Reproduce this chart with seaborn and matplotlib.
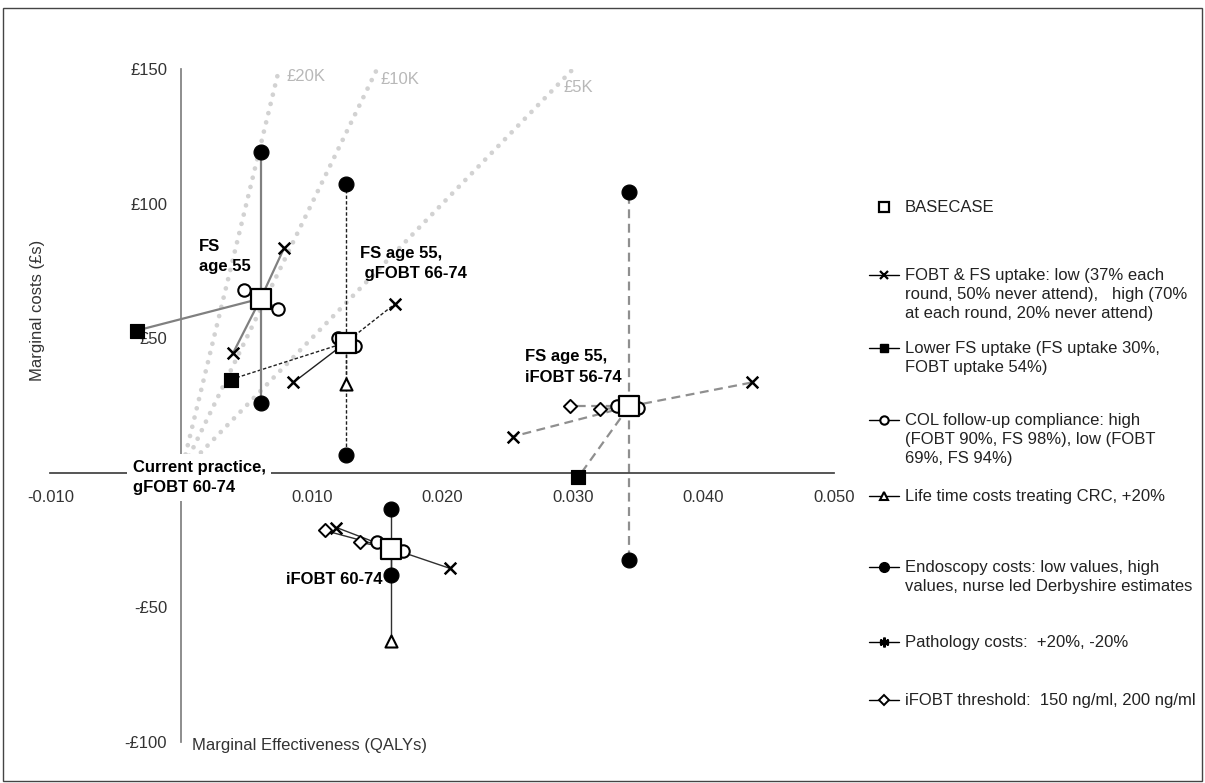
import matplotlib
matplotlib.use("Agg")
import matplotlib.pyplot as plt
from matplotlib.lines import Line2D
from matplotlib.patches import Rectangle
import pandas as pd
import seaborn as sns

# clusters: one base case per screening strategy
strategies = ["FS age 55", "FS age 55, gFOBT 66-74", "FS age 55, iFOBT 56-74", "iFOBT 60-74"]
base_qaly = [0.0061, 0.0126, 0.0343, 0.0161]
base_cost = [64.8, 48.4, 24.7, -28.1]

# sensitivity analyses (strategy index, QALY, cost)
uptake_strategy = [0, 0, 1, 1, 2, 2, 3, 3]
uptake_qaly = [0.0079, 0.0040, 0.0164, 0.0086, 0.0437, 0.0254, 0.0206, 0.0119]
uptake_cost = [83.7, 44.7, 62.9, 33.6, 33.6, 13.5, -35.5, -20.3]

lower_fs_strategy = [0, 1, 2]
lower_fs_qaly = [-0.0034, 0.0038, 0.0304]
lower_fs_cost = [52.9, 34.7, -1.7]

col_strategy = [0, 0, 1, 1, 2, 2, 3, 3]
col_qaly = [0.0048, 0.0074, 0.0120, 0.0133, 0.0334, 0.0350, 0.0150, 0.0170]
col_cost = [68.1, 61.0, 50.0, 47.1, 25.0, 24.3, -25.8, -29.2]

crc_strategy = [1, 3]
crc_qaly = [0.0126, 0.0161]
crc_cost = [33.2, -62.6]

endo_strategy = [0, 0, 1, 1, 2, 2, 3, 3]
endo_qaly = [0.0061, 0.0061, 0.0126, 0.0126, 0.0343, 0.0343, 0.0161, 0.0161]
endo_cost = [119.4, 25.8, 107.5, 6.5, 104.5, -32.2, -13.6, -38.1]

threshold_strategy = [2, 2, 3, 3]
threshold_qaly = [0.0298, 0.0321, 0.0110, 0.0137]
threshold_cost = [24.7, 23.6, -21.4, -25.8]

icer_thresholds = [20000, 10000, 5000]
icer_labels = ["£20K", "£10K", "£5K"]
icer_top_cost = 150

qaly_ticks = [-0.01, 0.0, 0.01, 0.02, 0.03, 0.04, 0.05]
qaly_tick_labels = ["-0.010", "", "0.010", "0.020", "0.030", "0.040", "0.050"]
cost_ticks = [-100, -50, 0, 50, 100, 150]
cost_tick_labels = ["-£100", "-£50", "", "£50", "£100", "£150"]

legend_labels = [
    "BASECASE",
    "FOBT & FS uptake: low (37% each\nround, 50% never attend),   high (70%\nat each round, 20% never attend)",
    "Lower FS uptake (FS uptake 30%,\nFOBT uptake 54%)",
    "COL follow-up compliance: high\n(FOBT 90%, FS 98%), low (FOBT\n69%, FS 94%)",
    "Life time costs treating CRC, +20%",
    "Endoscopy costs: low values, high\nvalues, nurse led Derbyshire estimates",
    "Pathology costs:  +20%, -20%",
    "iFOBT threshold:  150 ng/ml, 200 ng/ml",
]

analyses = {
    "uptake": (uptake_strategy, uptake_qaly, uptake_cost),
    "lower_fs": (lower_fs_strategy, lower_fs_qaly, lower_fs_cost),
    "col": (col_strategy, col_qaly, col_cost),
    "crc": (crc_strategy, crc_qaly, crc_cost),
    "endo": (endo_strategy, endo_qaly, endo_cost),
    "threshold": (threshold_strategy, threshold_qaly, threshold_cost),
}
rows = []
for name, (strat, q, c) in analyses.items():
    for s, qi, ci in zip(strat, q, c):
        rows.append({"analysis": name, "strategy": s, "qaly": qi, "cost": ci})
df = pd.DataFrame(rows)
base_df = pd.DataFrame({"strategy": strategies, "qaly": base_qaly, "cost": base_cost})

marker_style = {
    "uptake": dict(marker="x", s=70, color="black", linewidth=1.8),
    "lower_fs": dict(marker="s", s=105, color="black", edgecolor="black"),
    "col": dict(marker="o", s=80, color="white", edgecolor="black", linewidth=1.5),
    "crc": dict(marker="^", s=75, color="white", edgecolor="black", linewidth=1.5),
    "endo": dict(marker="o", s=115, color="black", edgecolor="black"),
    "threshold": dict(marker="D", s=45, color="white", edgecolor="black", linewidth=1.4),
}
cluster_lines = [
    dict(color="#808080", lw=1.6, ls="-"),
    dict(color="#202020", lw=1.0, ls=(0, (2.5, 1.5))),
    dict(color="#8f8f8f", lw=1.6, ls=(0, (4, 2.5))),
    dict(color="#303030", lw=1.0, ls="-"),
]

sns.set_theme(style="white")
plt.rcParams["font.family"] = ["Liberation Sans", "DejaVu Sans"]

fig = plt.figure(figsize=(12.05, 7.83), dpi=100)
ax = fig.add_axes([0.0419, 0.0524, 0.6502, 0.8591])

# ICER threshold lines
for lam, lab, off in zip(icer_thresholds, icer_labels, [(7, -7), (4, -10), (-9, -18)]):
    x_end = icer_top_cost / lam
    ax.plot([0, x_end], [0, icer_top_cost], color="#d2d2d2", lw=3.4,
            ls=(0, (0.01, 2.0)), dash_capstyle="round", zorder=1)
    ax.annotate(lab, (x_end, icer_top_cost), xytext=off, textcoords="offset pixels",
                ha="left", va="center", fontsize=12, color="#b8b8b8")

# connecting lines from each base case to its sensitivity results
for _, r in df.iterrows():
    st = dict(cluster_lines[r["strategy"]])
    if r["strategy"] == 1 and r["analysis"] == "uptake" and r["qaly"] < base_qaly[1]:
        st["ls"] = "-"
    ax.plot([base_qaly[r["strategy"]], r["qaly"]], [base_cost[r["strategy"]], r["cost"]],
            zorder=2, **st)

for name, kw in marker_style.items():
    sns.scatterplot(data=df[df["analysis"] == name], x="qaly", y="cost", ax=ax,
                    zorder=4, legend=False, **kw)
sns.scatterplot(data=base_df, x="qaly", y="cost", ax=ax, marker="s", s=190,
                color="white", edgecolor="black", linewidth=1.6, zorder=5, legend=False)

ax.set_xlim(-0.01, 0.05)
ax.set_ylim(-100, 150)
ax.set_xlabel("")
ax.set_ylabel("")
ax.spines["left"].set_position(("data", 0))
ax.spines["bottom"].set_position(("data", 0))
ax.spines["left"].set_color("#808080")
ax.spines["bottom"].set_color("#404040")
for s in ["top", "right"]:
    ax.spines[s].set_visible(False)
ax.set_xticks(qaly_ticks)
ax.set_xticklabels(qaly_tick_labels)
ax.set_yticks(cost_ticks)
ax.set_yticklabels(cost_tick_labels)
ax.tick_params(axis="x", direction="out", length=3, width=1, color="#404040",
               pad=9, labelsize=12, labelcolor="#333333")
ax.tick_params(axis="y", direction="out", length=3, width=1, color="#808080",
               pad=7, labelsize=12, labelcolor="#333333")
ax.grid(False)

# cluster labels
bold = dict(fontsize=12, fontweight="bold", color="black", linespacing=1.45, zorder=6)
ax.text(0.00135, 80.5, "FS\nage 55", ha="left", va="center", **bold)
ax.text(0.0137, 77.9, "FS age 55,\n gFOBT 66-74", ha="left", va="center", **bold)
ax.text(0.0263, 39.3, "FS age 55,\niFOBT 56-74", ha="left", va="center", **bold)
ax.text(0.0080, -39.6, "iFOBT 60-74", ha="left", va="center", **bold)
ax.text(-0.0037, -1.7, "Current practice,\ngFOBT 60-74", ha="left", va="center",
        bbox=dict(facecolor="white", edgecolor="none", pad=4), **bold)

fig.text(0.0315, 0.604, "Marginal costs (£s)", rotation=90, ha="center", va="center",
         fontsize=12, color="#333333")
fig.text(192 / 1205, 0.0485, "Marginal Effectiveness (QALYs)", ha="left", va="center",
         fontsize=12, color="#333333")

# legend drawn by hand to keep the original uneven spacing
H = 783.0
W = 1205.0
legend_y = [207, 275, 348, 420, 496, 567, 642, 700]
legend_markers = [
    dict(marker="s", ms=7, mfc="white", mec="black", mew=1.6),
    dict(marker="x", ms=6, mfc="black", mec="black", mew=1.6),
    dict(marker="s", ms=6, mfc="black", mec="black", mew=1),
    dict(marker="o", ms=6, mfc="white", mec="black", mew=1.5),
    dict(marker="^", ms=6, mfc="white", mec="black", mew=1.5),
    dict(marker="o", ms=7, mfc="black", mec="black", mew=1),
    dict(marker=(6, 2, 0), ms=7, mfc="black", mec="black", mew=1.8),
    dict(marker="D", ms=5, mfc="white", mec="black", mew=1.4),
]
for i, (lab, yp, mk) in enumerate(zip(legend_labels, legend_y, legend_markers)):
    yf = 1 - yp / H
    if i > 0:
        fig.add_artist(Line2D([869 / W, 899 / W], [yf, yf], transform=fig.transFigure,
                              color="black", lw=1))
    fig.add_artist(Line2D([884 / W], [yf], transform=fig.transFigure, ls="none", **mk))
    fig.text(905 / W, 1 - (yp - 7) / H, lab, ha="left", va="top", fontsize=12,
             color="#222222", linespacing=1.34)

fig.add_artist(Rectangle((3 / W, 2 / H), 1199 / W, 773 / H, transform=fig.transFigure,
                         fill=False, edgecolor="#444444", lw=1))

fig.savefig("out.png", dpi=100)
plt.close(fig)
